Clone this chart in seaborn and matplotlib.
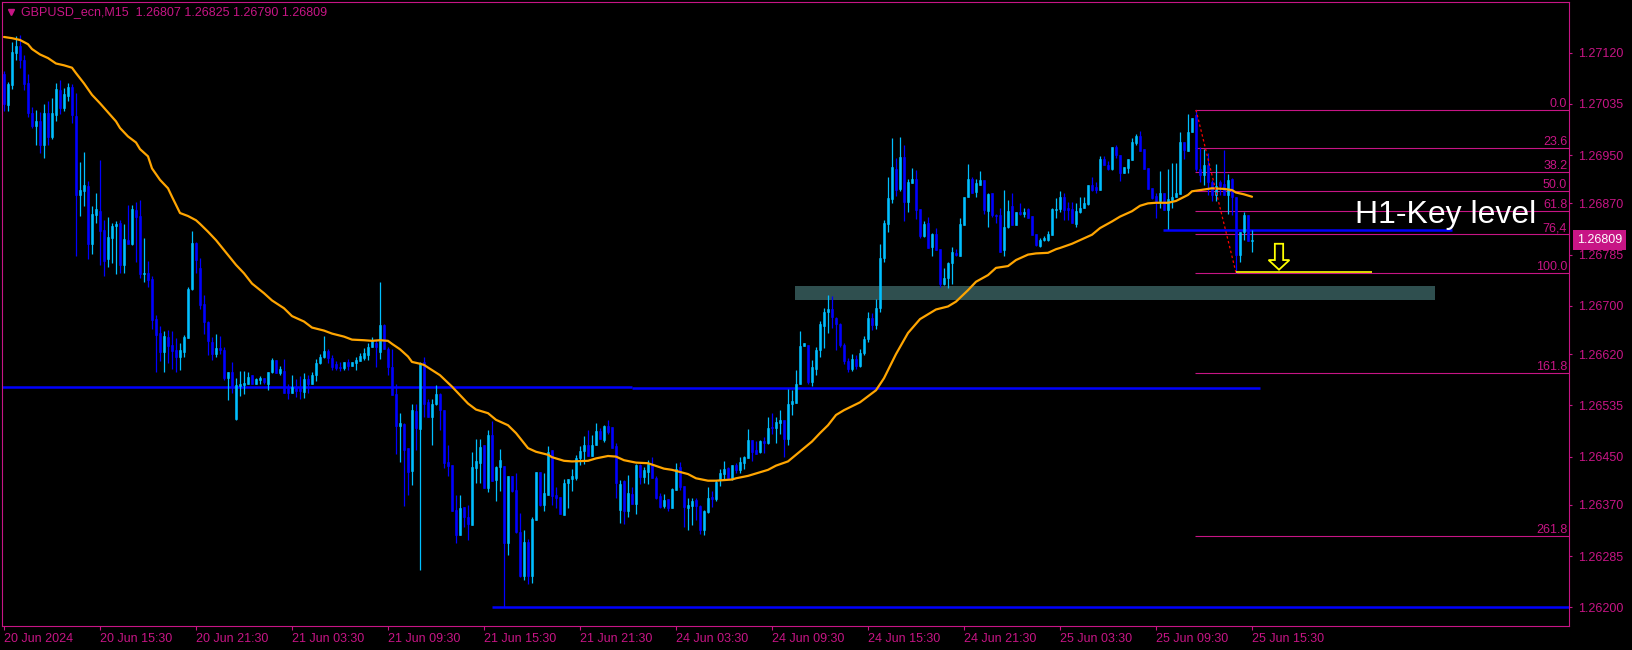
import numpy as np
import matplotlib
matplotlib.use("Agg")
import matplotlib.pyplot as plt
import matplotlib.transforms as mtransforms
from matplotlib.patches import Rectangle, Polygon
from matplotlib.lines import Line2D
import seaborn as sns

# prices are stored in points (1e-5) above 1.26000
BASE = 1.26
PT = 1e-5

opens = [
    1084, 1033, 1066, 1120, 1131, 1108, 1070, 1020, 998, 1007,
    967, 1020, 980, 1017, 1058, 1028, 1048, 1063, 1015, 884,
    890, 898, 803, 851, 857, 826, 778, 813, 832, 838,
    768, 809, 803, 859, 849, 753, 755, 745, 678, 655,
    624, 648, 635, 627, 616, 624, 647, 728, 804, 762,
    703, 673, 640, 620, 630, 627, 581, 591, 512, 567,
    568, 571, 585, 570, 577, 581, 571, 590, 610, 588,
    592, 566, 556, 566, 566, 557, 578, 570, 585, 606,
    615, 625, 614, 604, 599, 597, 607, 601, 605, 609,
    614, 618, 631, 638, 624, 668, 629, 598, 554, 501,
    504, 465, 426, 526, 496, 607, 540, 515, 537, 553,
    527, 441, 436, 361, 320, 366, 349, 337, 431, 440,
    469, 398, 486, 411, 433, 434, 307, 418, 394, 325,
    252, 308, 252, 345, 424, 369, 386, 461, 386, 383,
    353, 407, 413, 415, 447, 459, 470, 451, 469, 493,
    478, 500, 499, 467, 361, 409, 360, 388, 371, 436,
    416, 424, 436, 414, 384, 368, 379, 364, 394, 432,
    401, 364, 368, 378, 368, 328, 358, 383, 379, 411,
    421, 431, 414, 436, 428, 440, 448, 477, 461, 458,
    476, 472, 499, 498, 505, 511, 479, 537, 539, 570,
    633, 635, 574, 595, 626, 667, 689, 694, 680, 670,
    635, 609, 596, 612, 600, 622, 645, 680, 668, 696,
    780, 836, 877, 927, 894, 947, 873, 904, 910, 860,
    816, 837, 797, 820, 794, 737, 746, 771, 787, 783,
    834, 880, 910, 889, 901, 909, 857, 887, 851, 850,
    792, 831, 866, 834, 856, 852, 860, 849, 819, 800,
    810, 810, 818, 859, 861, 881, 862, 861, 835, 856,
    862, 869, 900, 897, 892, 944, 934, 927, 964, 951,
    920, 929, 942, 970, 982, 961, 928, 895, 882, 874,
    887, 859, 875, 881, 886, 972, 957, 988, 1017, 927,
    917, 934, 905, 884, 905, 902, 884, 910, 881, 785,
    823, 851, 807,
]
highs = [
    1089, 1071, 1137, 1147, 1149, 1116, 1084, 1030, 1025, 1021,
    1035, 1039, 1044, 1069, 1075, 1061, 1069, 1068, 1053, 939,
    956, 907, 865, 888, 942, 843, 848, 837, 840, 843,
    835, 867, 867, 873, 876, 812, 775, 749, 685, 666,
    658, 660, 658, 646, 638, 652, 732, 824, 806, 779,
    718, 675, 649, 653, 650, 631, 591, 607, 580, 592,
    592, 590, 585, 581, 584, 581, 590, 613, 610, 600,
    612, 571, 585, 578, 583, 588, 585, 590, 612, 620,
    650, 629, 618, 609, 607, 607, 612, 607, 616, 621,
    630, 639, 648, 643, 740, 670, 631, 629, 571, 522,
    505, 465, 537, 538, 607, 616, 545, 545, 569, 555,
    527, 469, 436, 386, 386, 367, 370, 458, 479, 479,
    470, 494, 509, 434, 463, 434, 418, 418, 422, 357,
    329, 314, 350, 424, 424, 423, 468, 461, 399, 383,
    413, 413, 430, 453, 467, 484, 494, 486, 506, 497,
    502, 511, 499, 472, 411, 411, 419, 400, 438, 438,
    432, 444, 450, 417, 389, 388, 379, 398, 440, 441,
    401, 381, 381, 382, 370, 362, 400, 393, 411, 429,
    443, 433, 436, 440, 449, 451, 496, 478, 476, 477,
    483, 516, 523, 516, 528, 511, 562, 561, 594, 659,
    638, 635, 611, 631, 675, 697, 718, 716, 681, 671,
    638, 614, 620, 618, 628, 650, 690, 688, 711, 803,
    843, 913, 978, 945, 980, 967, 910, 928, 925, 860,
    840, 847, 821, 829, 794, 762, 772, 798, 795, 845,
    880, 935, 913, 910, 924, 909, 887, 887, 852, 862,
    893, 876, 888, 855, 870, 862, 862, 849, 819, 812,
    816, 824, 862, 879, 891, 888, 873, 872, 870, 880,
    880, 900, 914, 905, 949, 949, 940, 964, 967, 951,
    931, 944, 978, 985, 990, 961, 928, 895, 887, 924,
    888, 927, 937, 937, 988, 972, 1018, 1012, 1025, 963,
    961, 953, 909, 935, 909, 959, 918, 912, 881, 823,
    856, 851, 825,
]
lows = [
    1023, 1023, 1060, 1108, 1095, 1058, 1014, 995, 966, 954,
    946, 967, 976, 1007, 1018, 1023, 1040, 1004, 783, 849,
    865, 778, 786, 838, 767, 749, 764, 771, 753, 755,
    755, 803, 801, 773, 746, 740, 732, 662, 591, 608,
    591, 606, 596, 591, 594, 616, 647, 726, 754, 695,
    654, 618, 610, 616, 620, 577, 544, 555, 511, 550,
    553, 570, 570, 570, 570, 570, 560, 588, 588, 586,
    556, 545, 556, 549, 545, 548, 555, 570, 576, 603,
    613, 606, 593, 593, 592, 593, 593, 600, 593, 608,
    610, 610, 631, 598, 612, 628, 586, 552, 454, 441,
    368, 386, 403, 461, 262, 516, 515, 469, 535, 494,
    431, 417, 359, 306, 320, 334, 311, 337, 407, 407,
    398, 392, 410, 377, 393, 200, 287, 392, 323, 251,
    246, 239, 241, 345, 368, 359, 386, 370, 365, 354,
    353, 364, 393, 411, 436, 438, 451, 451, 469, 479,
    475, 488, 465, 382, 340, 338, 350, 371, 355, 405,
    406, 404, 414, 379, 364, 364, 360, 364, 394, 394,
    334, 328, 336, 345, 322, 320, 356, 367, 377, 401,
    411, 414, 411, 422, 422, 430, 447, 443, 455, 456,
    456, 471, 488, 472, 488, 450, 469, 519, 539, 570,
    633, 570, 567, 585, 616, 630, 655, 663, 626, 631,
    603, 590, 592, 596, 598, 618, 640, 660, 662, 690,
    773, 823, 871, 882, 890, 841, 856, 903, 844, 812,
    814, 796, 783, 793, 732, 735, 730, 737, 782, 783,
    834, 880, 888, 880, 901, 853, 831, 848, 838, 790,
    782, 829, 834, 834, 851, 848, 845, 818, 799, 798,
    808, 808, 818, 846, 856, 843, 843, 837, 831, 854,
    862, 868, 890, 887, 892, 933, 926, 926, 946, 907,
    920, 920, 942, 967, 957, 927, 894, 877, 846, 862,
    859, 828, 862, 880, 886, 944, 957, 988, 923, 905,
    901, 884, 874, 874, 884, 884, 852, 851, 755, 773,
    809, 808, 790,
]
closes = [
    1034, 1068, 1121, 1131, 1107, 1068, 1020, 998, 1007, 967,
    1020, 980, 1020, 1060, 1028, 1052, 1063, 1017, 884, 892,
    901, 803, 852, 861, 824, 775, 814, 833, 836, 768,
    811, 803, 861, 848, 753, 755, 743, 677, 652, 624,
    650, 634, 625, 616, 627, 648, 728, 804, 776, 701,
    674, 641, 620, 630, 626, 581, 590, 567, 569, 570,
    572, 582, 571, 579, 581, 574, 590, 610, 589, 595,
    556, 556, 565, 558, 558, 579, 570, 585, 606, 616,
    625, 614, 598, 597, 597, 607, 600, 607, 610, 617,
    622, 631, 641, 631, 668, 628, 598, 552, 501, 506,
    461, 425, 527, 497, 605, 538, 515, 538, 553, 528,
    440, 434, 360, 320, 365, 349, 338, 432, 442, 466,
    398, 486, 410, 433, 445, 307, 418, 393, 325, 252,
    308, 252, 346, 424, 370, 389, 458, 385, 381, 355,
    407, 413, 417, 448, 460, 470, 451, 470, 493, 479,
    500, 490, 465, 407, 404, 360, 389, 372, 436, 416,
    428, 438, 414, 382, 367, 378, 364, 397, 430, 399,
    366, 369, 377, 368, 328, 360, 382, 380, 408, 422,
    430, 414, 436, 428, 441, 450, 477, 458, 455, 476,
    472, 497, 497, 507, 511, 479, 538, 542, 571, 633,
    638, 574, 598, 627, 670, 689, 694, 681, 670, 635,
    609, 596, 612, 600, 622, 645, 680, 668, 696, 780,
    837, 879, 930, 893, 947, 873, 906, 910, 859, 816,
    836, 796, 820, 793, 737, 746, 771, 789, 785, 836,
    880, 910, 888, 904, 909, 859, 886, 851, 849, 790,
    830, 857, 834, 855, 852, 856, 846, 818, 801, 810,
    813, 819, 860, 861, 881, 859, 859, 837, 857, 863,
    871, 900, 892, 892, 944, 933, 927, 964, 950, 920,
    931, 944, 971, 982, 957, 927, 894, 879, 874, 887,
    859, 877, 881, 887, 972, 958, 988, 1011, 927, 917,
    934, 905, 884, 899, 898, 884, 908, 880, 785, 823,
    851, 808, 809,
]

# moving average (candle index, points)
ma_idx = [0, 2, 4, 6, 7, 9, 11, 13, 15, 17, 18, 20, 22, 24, 26, 28, 29, 31, 33, 34,
          36, 37, 39, 41, 42, 44, 46, 48, 49, 51, 53, 57, 58, 60, 62, 65, 67, 70, 72, 75,
          77, 80, 82, 85, 87, 90, 92, 94, 96, 97, 99, 101, 102, 104, 105, 109, 112, 116, 118, 121,
          123, 126, 128, 131, 133, 136, 137, 140, 142, 146, 148, 151, 153, 155, 158, 161, 165, 167, 171, 173,
          176, 178, 182, 183, 186, 188, 191, 193, 196, 198, 200, 202, 204, 206, 208, 210, 214, 218, 220, 223,
          226, 229, 232, 233, 236, 238, 241, 243, 246, 248, 251, 253, 256, 258, 261, 263, 264, 267, 269, 272,
          274, 277, 279, 282, 284, 286, 288, 291, 293, 296, 297, 300, 302, 305, 307, 308, 310, 312]
ma_pts = [1146, 1144, 1141, 1134, 1126, 1117, 1111, 1102, 1099, 1095, 1086, 1069, 1050, 1036, 1021, 1006, 995, 981, 971, 960,
          948, 928, 909, 895, 881, 854, 849, 842, 836, 823, 809, 776, 768, 754, 737, 721, 709, 696, 683, 674,
          664, 659, 654, 649, 644, 643, 642, 643, 642, 637, 628, 616, 607, 604, 602, 585, 566, 538, 528, 522,
          511, 502, 489, 464, 458, 453, 449, 443, 442, 443, 447, 451, 450, 444, 440, 439, 430, 428, 421, 414,
          410, 410, 412, 414, 418, 422, 428, 435, 442, 453, 464, 475, 489, 502, 519, 527, 540, 560, 580, 620,
          655, 678, 690, 694, 699, 707, 726, 740, 751, 763, 766, 776, 785, 787, 788, 794, 796, 803, 809, 818,
          829, 840, 848, 857, 866, 870, 871, 871, 874, 884, 890, 893, 895, 894, 892, 888, 885, 881]

x_labels = ["20 Jun 2024", "20 Jun 15:30", "20 Jun 21:30", "21 Jun 03:30", "21 Jun 09:30",
            "21 Jun 15:30", "21 Jun 21:30", "24 Jun 03:30", "24 Jun 09:30", "24 Jun 15:30",
            "24 Jun 21:30", "25 Jun 03:30", "25 Jun 09:30", "25 Jun 15:30"]
y_ticks = [1.27120, 1.27035, 1.26950, 1.26870, 1.26785, 1.26700, 1.26620,
           1.26535, 1.26450, 1.26370, 1.26285, 1.26200]

fib_levels = [0.0, 23.6, 38.2, 50.0, 61.8, 76.4, 100.0, 161.8, 261.8]
fib_names = ["0.0", "23.6", "38.2", "50.0", "61.8", "76,4", "100.0", "161.8", "261.8"]
fib_from, fib_to = 298, 308          # swing high candle, swing low candle

support_lines = [(-0.4, 157, 566), (157, 314, 564.5), (122, 392, 200), (289.7, 362, 826)]
zone = (197.75, 357.75, 710, 733)    # x0, x1, lower, upper (points)
yellow_level = (308, 342, 756)
arrow = (318.75, 803, 776, 760)      # x, top, head start, tip (points)
key_text = "H1-Key level"
key_pos = (383, 838)
header = "GBPUSD_ecn,M15  1.26807 1.26825 1.26790 1.26809"
last_price = 1.26809

FG = "#C71585"
BULL = "#00BFFF"
BEAR = "#0000FF"


def px(v):
    return BASE + np.asarray(v, dtype=float) * PT


sns.set_theme(style="dark", rc={"axes.facecolor": "black", "figure.facecolor": "black",
                                "savefig.facecolor": "black"})
plt.rcParams["font.family"] = ["Liberation Sans", "DejaVu Sans"]

W, H = 1633, 650
fig = plt.figure(figsize=(W / 100, H / 100), dpi=100)
ax = fig.add_axes([2.5 / W, 24 / H, 1566.5 / W, 624 / H])
ax.set_facecolor("black")
ax.set_xlim(-0.375, 391.25)
ax.set_ylim(px(169), px(1204))

# zone
z0, z1, zl, zh = zone
ax.add_patch(Rectangle((z0, px(zl)), z1 - z0, px(zh) - px(zl), fc="#2F4F4F", ec="none", zorder=1))

# horizontal lines
for a, b, lvl in support_lines:
    ax.hlines(px(lvl), a, b, color=BEAR, lw=1.8, zorder=2)

# candles
o, h, l, c = px(opens), px(highs), px(lows), px(closes)
x = np.arange(len(closes))
cols = np.where(c >= o, BULL, BEAR)
ax.vlines(x, l, h, colors=cols, lw=0.9, zorder=3)
body = np.maximum(np.abs(c - o), 1.2e-5)
ax.bar(x, body, bottom=np.minimum(o, c), width=0.72, color=cols, edgecolor=cols,
       lw=0.4, zorder=4)

# moving average
sns.lineplot(x=ma_idx, y=px(ma_pts), color="#FFA500", lw=1.6, ax=ax, zorder=5)

# fibonacci
fhi, flo = h[fib_from], l[fib_to]
for lvl, name in zip(fib_levels, fib_names):
    yv = fhi - (fhi - flo) * lvl / 100
    ax.hlines(yv, fib_from - 0.25, 391.25, color=FG, lw=0.8, zorder=2)
    ax.text(390.8, yv, name, ha="right", va="bottom", fontsize=9, color=FG, zorder=6)
ax.plot([fib_from, fib_to], [fhi, flo], color="red", lw=0.9, ls=(0, (2, 2)), zorder=6)

# yellow level and arrow
ya, yb, yl = yellow_level
ax.hlines(px(yl), ya, yb, color="yellow", lw=1.2, zorder=6)
ax_, top, hs, tip = arrow
pts = [(ax_ - 1.04, px(top)), (ax_ + 1.04, px(top)), (ax_ + 1.04, px(hs)), (ax_ + 2.6, px(hs)),
       (ax_, px(tip)), (ax_ - 2.6, px(hs)), (ax_ - 1.04, px(hs))]
ax.add_patch(Polygon(pts, closed=True, fc="black", ec="yellow", lw=1.3, zorder=7))

ax.text(key_pos[0], px(key_pos[1]), key_text, ha="right", va="baseline",
        fontsize=23, color="white", zorder=8)

# axes styling
for s in ax.spines.values():
    s.set_visible(True)
    s.set_color(FG)
    s.set_linewidth(0.8)
ax.set_xticks(np.arange(0, len(closes), 24))
ax.set_xticklabels(x_labels)
ax.set_yticks(y_ticks)
ax.set_yticklabels([f"{v:.5f}" for v in y_ticks])
ax.yaxis.tick_right()
ax.tick_params(axis="x", bottom=True, colors=FG, labelcolor=FG, length=3, width=0.8,
               pad=2, labelsize=9, direction="out")
ax.tick_params(axis="y", right=True, left=False, colors=FG, labelcolor=FG, length=2.2,
               width=0.8, pad=4, labelsize=9, direction="out")
for t in ax.get_xticklabels():
    t.set_ha("left")
ax.grid(False)
ax.set_xlabel("")
ax.set_ylabel("")

# current price box
tr = mtransforms.blended_transform_factory(fig.transFigure, ax.transData)
ax.text(1577 / W, last_price, f"{last_price:.5f}", transform=tr, ha="left", va="center",
        fontsize=9, color="white", clip_on=False, zorder=9,
        bbox=dict(boxstyle="square,pad=0.3", fc=FG, ec="none"))

# header
fig.text(21 / W, 1 - 12 / H, header, fontsize=9, color=FG, va="center", ha="left")
fig.add_artist(Line2D([10.5 / W], [1 - 12 / H], marker="v", markersize=5, color=FG,
                      lw=0, transform=fig.transFigure))

fig.savefig("out.png", dpi=100, facecolor="black")
